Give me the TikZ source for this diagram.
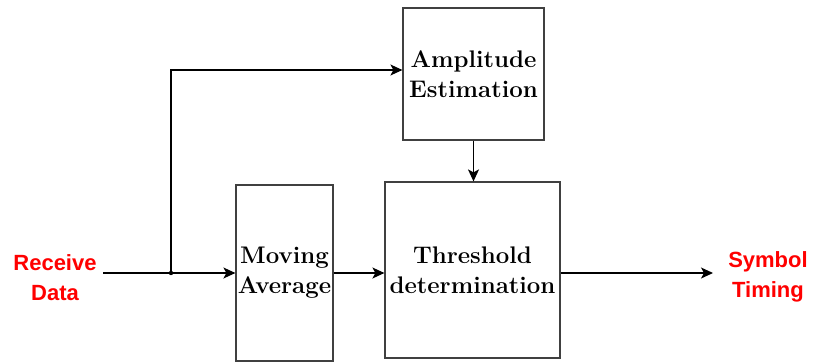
\documentclass[tikz,border=0pt]{standalone}
\usepackage{fontspec}
\newfontfamily\labelfont{Liberation Sans}
\usetikzlibrary{arrows.meta, positioning}

\tikzset{
  block/.style={draw=black!75, line width=1.2pt, fill=white, align=center,
    inner sep=0pt, font=\fontsize{24}{30}\selectfont\bfseries},
  sig/.style={draw, line width=1.2pt, -{Stealth[length=12pt, width=11pt, inset=3pt]}},
  io/.style={text=red, align=center,
    font=\labelfont\bfseries\fontsize{22}{30}\selectfont},
}

\begin{document}
\begin{tikzpicture}[x=1pt, y=-1pt]
    \useasboundingbox (0,0) rectangle (816,362);
    % blocks
    \node[block, minimum width=141pt, minimum height=132pt] (amp) at (473.5,74) {Amplitude\\Estimation};
    \node[block, minimum width=97pt, minimum height=176pt] (mavg) at (284.5,273) {Moving\\Average};
    \node[block, minimum width=175pt, minimum height=176pt] (thr) at (472.5,270) {Threshold\\determination};
    % input and output
    \node[io] (rx) at (55,278) {Receive\\Data};
    \node[io] (sym) at (768,277) {Symbol\\Timing};
    \coordinate (rxend) at (103,273);
    \coordinate (split) at (171,273);
    \coordinate (top) at (171,70);
    \coordinate (out) at (713,273);
    % connectors
    \draw[sig] (rxend) -- (rxend -| mavg.west);
    \fill (split) circle (2.2pt);
    \draw[sig] (split) -- (top) -- (top -| amp.west);
    \draw[sig] (amp.south) -- (amp.south |- thr.north);
    \draw[sig] (rxend -| mavg.east) -- (rxend -| thr.west);
    \draw[sig] (out -| thr.east) -- (out);
\end{tikzpicture}
\end{document}
